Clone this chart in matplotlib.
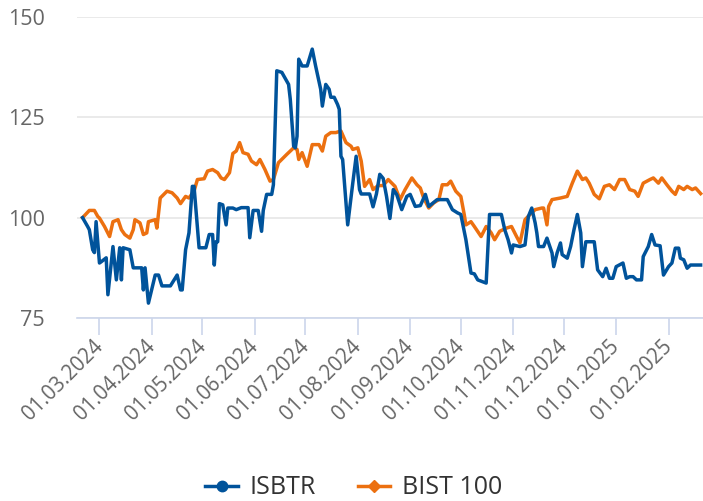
import numpy as np
import pandas as pd
import matplotlib
matplotlib.use('Agg')
import matplotlib.pyplot as plt
import matplotlib.dates as mdates
from matplotlib.lines import Line2D

plt.rcParams['font.family'] = ['Open Sans', 'DejaVu Sans']

start = pd.Timestamp('2024-02-20')

# ISBTR: days since 20.02.2024 and indexed value
isbtr_days = [0, 3, 4, 6, 7, 8, 10, 11, 14, 15, 18, 20, 22, 23, 24, 28, 30, 35, 36, 37,
              39, 43, 45, 47, 52, 56, 58, 59, 61, 63, 65, 66, 69, 73, 75, 77, 78, 79, 80, 81,
              83, 85, 86, 89, 91, 94, 98, 99, 101, 104, 106, 107, 109, 112, 113, 115, 118, 122, 123, 125,
              126, 127, 128, 130, 133, 136, 138, 141, 142, 144, 146, 147, 149, 151, 152, 153, 154, 157, 160, 162,
              164, 165, 170, 172, 174, 176, 178, 180, 182, 184, 186, 189, 192, 194, 197, 200, 203, 205, 210, 216,
              219, 222, 224, 227, 230, 232, 234, 239, 241, 248, 250, 252, 254, 255, 259, 262, 264, 266, 268, 269,
              270, 273, 275, 278, 279, 281, 283, 284, 287, 289, 291, 293, 295, 296, 298, 303, 305, 308, 310, 312,
              314, 316, 320, 322, 324, 326, 328, 331, 332, 335, 337, 339, 342, 344, 347, 349, 351, 353, 354, 356,
              358, 360, 366]
isbtr_vals = [100, 97.8, 97, 92, 91.3, 99, 88.7, 89, 90, 80.8, 92.8, 84.5, 92.5, 84.5, 92.5, 92, 87.5, 87.5, 82, 87.5,
              78.7, 85.7, 85.7, 83, 83, 85.7, 82, 82, 92, 96.2, 107.8, 107.8, 92.5, 92.5, 95.8, 95.8, 88.2, 94, 94, 103.5,
              103.2, 98.2, 102.4, 102.4, 102, 102.5, 102.5, 95, 101.8, 101.8, 96.6, 101.8, 105.8, 105.8, 108.2, 136.6, 136.2, 133.2, 129.5, 117.8,
              117.4, 120.3, 139.5, 137.8, 137.8, 142, 137.8, 132, 127.8, 133.2, 132, 130, 130, 128.2, 127, 115.3, 114.5, 98.2, 108.6, 115.3,
              107, 105.9, 105.9, 102.7, 105.9, 110.8, 109.8, 105.3, 99.8, 107, 105.8, 102, 105.3, 105.8, 102.8, 103, 105.8, 102.8, 104.5, 104.5,
              102, 101.2, 100.8, 94.5, 86.2, 86, 84.5, 83.7, 100.8, 100.8, 97, 94.5, 91.2, 93.2, 92.8, 93.2, 100.3, 102.4, 98.7, 96.2,
              92.8, 92.8, 94.9, 91.2, 87.8, 91.2, 93.7, 90.8, 89.9, 92.8, 97, 100.8, 96.2, 87.8, 94, 94, 87, 85.3, 87.4, 84.9,
              84.9, 87.8, 88.7, 84.9, 85.3, 85.3, 84.5, 84.5, 90.3, 92.8, 95.8, 93.2, 93, 85.7, 87.8, 88.7, 92.4, 92.4, 89.9, 89.5,
              87.4, 88.2, 88.2]

# BIST 100
bist_days = [0, 4, 7, 9, 10, 13, 16, 18, 21, 23, 25, 28, 30, 31, 34, 36, 38, 39, 43, 44,
             46, 50, 53, 56, 58, 61, 63, 66, 68, 72, 74, 77, 80, 82, 84, 87, 89, 91, 93, 95,
             98, 100, 103, 105, 108, 111, 113, 116, 121, 125, 127, 128, 130, 133, 136, 140, 142, 144, 147, 150,
             153, 156, 159, 160, 163, 165, 167, 170, 172, 175, 178, 181, 185, 188, 191, 195, 198, 200, 202, 205,
             208, 211, 213, 216, 218, 221, 224, 226, 227, 230, 232, 236, 239, 242, 244, 247, 251, 254, 257, 259,
             262, 265, 268, 272, 273, 275, 276, 278, 283, 287, 290, 293, 296, 298, 300, 303, 306, 309, 312, 315,
             318, 321, 324, 327, 329, 332, 336, 338, 341, 343, 346, 349, 351, 353, 356, 358, 361, 363, 366]
bist_vals = [100, 101.8, 101.8, 100.3, 99.9, 97.8, 95.3, 99, 99.5, 97, 95.8, 94.9, 97, 99.5, 98.7, 95.8, 96.2, 99, 99.5, 97.4,
             104.9, 106.6, 106.2, 104.9, 103.5, 105.3, 104.9, 106.6, 109.5, 109.7, 111.6, 112, 111.2, 109.9, 109.5, 111.2, 116, 116.6, 118.7, 116.2,
             115.8, 114.1, 113.2, 114.5, 112, 109.1, 109.5, 113.7, 115.8, 117.4, 117, 114.5, 116.2, 112.8, 118.2, 118.2, 116.6, 120.3, 121.2, 121.2,
             121.6, 118.7, 117.8, 117, 117.4, 114.1, 107.8, 109.5, 107, 108, 108, 109.5, 107.8, 104.5, 107, 109.9, 108.2, 107.4, 104.9, 102.4,
             103.7, 104.5, 108.2, 108.2, 109.1, 106.6, 105.3, 100.8, 98.2, 99, 97.8, 95.3, 97.8, 96.2, 94.5, 96.6, 97.4, 97.8, 95.3, 93.7,
             99.5, 100.8, 102, 102.4, 102.4, 98.2, 102.8, 104.5, 104.9, 105.3, 108.6, 111.6, 109.5, 109.9, 108.6, 105.8, 104.7, 107.8, 108.2, 107,
             109.5, 109.5, 107, 106.6, 105.3, 108.6, 109.5, 109.9, 108.6, 109.9, 108.2, 106.6, 105.8, 107.8, 107, 107.8, 107, 107.4, 106]

y_ticks = [75, 100, 125, 150]

isbtr_color = '#00539b'
bist_color = '#ec7010'

isbtr_dates = start + pd.to_timedelta(isbtr_days, unit='D')
bist_dates = start + pd.to_timedelta(bist_days, unit='D')

fig = plt.figure(figsize=(7.03, 5.01), dpi=100)
ax = fig.add_axes([77 / 703, 1 - 318 / 501, 626 / 703, 301 / 501])

ax.plot(isbtr_dates, isbtr_vals, color=isbtr_color, lw=2.5,
        solid_joinstyle='round', zorder=3)
ax.plot(bist_dates, bist_vals, color=bist_color, lw=2.5,
        solid_joinstyle='round', zorder=2)

ax.set_ylim(75, 150)
ax.set_yticks(y_ticks)
ax.set_xlim(start - pd.Timedelta(days=3.3), start + pd.Timedelta(days=367.4))

ax.grid(axis='y', color='#e6e6e6', lw=1.2)
ax.set_axisbelow(True)
for s in ['top', 'right', 'left']:
    ax.spines[s].set_visible(False)
ax.spines['bottom'].set_color('#ccd6eb')
ax.spines['bottom'].set_linewidth(1.2)

ax.xaxis.set_major_locator(mdates.MonthLocator(bymonthday=1))
ax.xaxis.set_major_formatter(mdates.DateFormatter('%d.%m.%Y'))
ax.tick_params(axis='x', length=12.5, width=1.2, color='#ccd6eb', pad=6,
               labelsize=14.8, labelcolor='#666666')
ax.tick_params(axis='y', length=0, pad=23, labelsize=15.5, labelcolor='#666666')
for lbl in ax.get_xticklabels():
    lbl.set_rotation(45)
    lbl.set_ha('right')
    lbl.set_va('center')
    lbl.set_rotation_mode('anchor')

handles = [
    Line2D([], [], color=isbtr_color, lw=2.5, marker='o', markersize=7.5),
    Line2D([], [], color=bist_color, lw=2.5, marker='D', markersize=6.5),
]
fig.legend(handles, ['ISBTR', 'BIST 100'], loc='center', bbox_to_anchor=(0.503, 0.026),
           ncol=2, frameon=False, fontsize=18, handlelength=1.3, handletextpad=0.45,
           columnspacing=1.7, labelcolor='#333333')

fig.savefig('out.png', dpi=100)
